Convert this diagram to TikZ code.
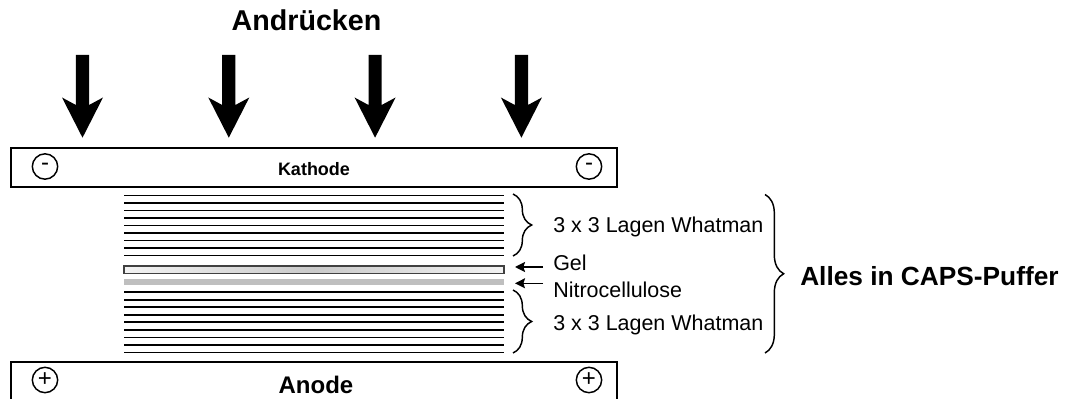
\documentclass[tikz,border=0pt]{standalone}
\usepackage{fontspec}
\setmainfont{Liberation Sans}
\usetikzlibrary{decorations.pathreplacing,arrows.meta}
\begin{document}
\begin{tikzpicture}[x=0.75pt,y=-0.75pt,
  plate/.style={draw=black, line width=1.5pt},
  pole/.style={draw=black, line width=1.1pt, circle, minimum size=19pt, inner sep=0pt, font=\fontsize{18}{18}\selectfont},
  sheet/.style={line width=1.45pt},
  sheetb/.style={line width=1.15pt},
  lbl/.style={anchor=base west, inner sep=0pt, font=\fontsize{16.1}{17}\selectfont},
  bigl/.style={anchor=base, inner sep=0pt, font=\bfseries\fontsize{21.5}{22}\selectfont},
  curly/.style={decorate, decoration={brace, amplitude=14pt}, line width=1.1pt},
  ptr/.style={-{Stealth[length=7.5pt,width=7.5pt,inset=1.2pt]}, line width=1.1pt},
  press/.style={fill=black}
]
\useasboundingbox (0,0) rectangle (1065,399);

% title
\node[bigl] (press) at (306.5,31) {Andrücken};

% pressing arrows
\foreach \cx in {82.5,228.8,375.1,521.4}{
  \fill[press] ({\cx-6.6},55) -- ({\cx+6.6},55) -- ({\cx+6.6},105) -- ({\cx+20.5},97.5)
    -- (\cx,137.7) -- ({\cx-20.5},97.5) -- ({\cx-6.6},105) -- cycle;
}

% cathode plate
\draw[plate] (11,148.3) rectangle (617,186.7);
\node[pole] (cm1) at (45,166.5) {-};
\node[pole] (cm2) at (589,166.5) {-};
\node[anchor=base, inner sep=0pt, font=\bfseries\fontsize{13.5}{14}\selectfont] (kath) at (314,176) {Kathode};

% anode plate
\draw[plate] (11,362) rectangle (617,402);
\node[pole] (ap1) at (45,380) {+};
\node[pole] (ap2) at (589,380) {+};
\node[anchor=base, inner sep=0pt, font=\bfseries\fontsize{18}{18}\selectfont] (anode) at (316,393.5) {Anode};

% upper Whatman sheets
\foreach \i in {0,...,8}{
  \pgfmathparse{isodd(\i)}
  \ifnum\pgfmathresult=1
    \draw[sheet] (124,{195.3+7.5*\i}) -- (504,{195.3+7.5*\i});
  \else
    \draw[sheetb] (124,{195.3+7.5*\i}) -- (504,{195.3+7.5*\i});
  \fi
}
% lower Whatman sheets
\foreach \i in {0,...,8}{
  \pgfmathparse{isodd(\i)}
  \ifnum\pgfmathresult=1
    \draw[sheet] (124,{292+7.55*\i}) -- (504,{292+7.55*\i});
  \else
    \draw[sheetb] (124,{292+7.55*\i}) -- (504,{292+7.55*\i});
  \fi
}

% gel
\shade[left color=gray!10, right color=gray!10, middle color=gray!42] (124,266) rectangle (504,273.3);
\draw[draw=black!75, line width=1.1pt] (124,266) rectangle (504,273.3);
\coordinate (gelE) at (515,267);
% nitrocellulose
\fill[gray!50] (124,279.5) rectangle (504,285.3);
\coordinate (nitE) at (515,283.3);

% small braces
\coordinate (b1t) at (513,194);
\coordinate (b1b) at (513,256);
\coordinate (b2t) at (513,290);
\coordinate (b2b) at (513,353);
\draw[curly] (b1t) -- (b1b);
\draw[curly] (b2t) -- (b2b);

% labels
\node[lbl] (w1) at (553,232.7) {3 x 3 Lagen Whatman};
\node[lbl] (gl) at (553,271) {Gel};
\node[lbl] (nc) at (553,298) {Nitrocellulose};
\node[lbl] (w2) at (553,330) {3 x 3 Lagen Whatman};

\coordinate (gelT) at (543,267);
\coordinate (nitT) at (543,283.3);
\draw[ptr] (gelT) -- (gelE);
\draw[ptr] (nitT) -- (nitE);

% big brace
\coordinate (bbt) at (765,194.5);
\coordinate (bbb) at (765,353);
\draw[curly] (bbt) -- (bbb);
\node[anchor=base west, inner sep=0pt, font=\bfseries\fontsize{19.7}{20}\selectfont] (caps) at (800,286) {Alles in CAPS-Puffer};
\end{tikzpicture}
\end{document}
